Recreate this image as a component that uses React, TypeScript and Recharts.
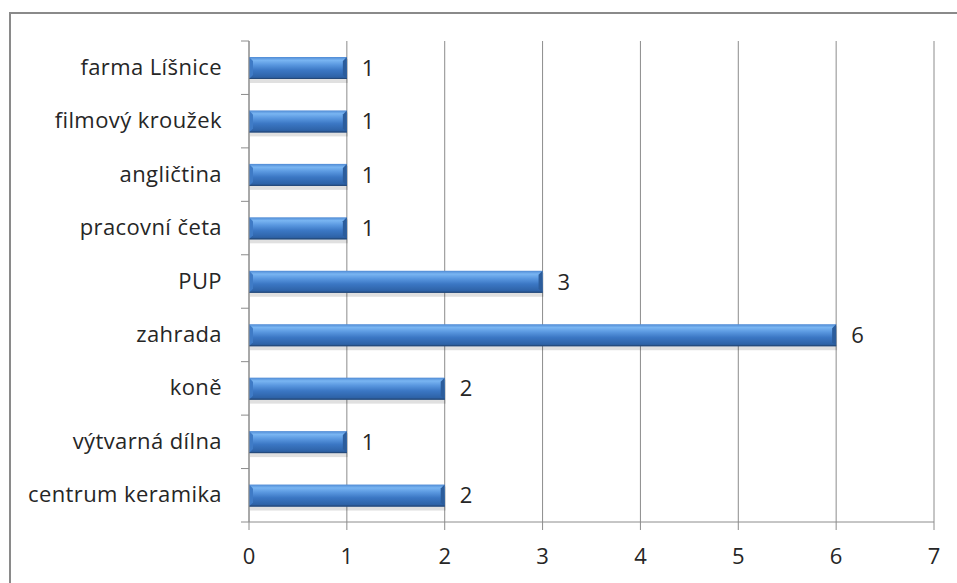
import { Bar, BarChart, CartesianGrid, LabelList, XAxis, YAxis } from "recharts";

// categories top to bottom, as in the picture
const categories = [
  "farma Líšnice",
  "filmový kroužek",
  "angličtina",
  "pracovní četa",
  "PUP",
  "zahrada",
  "koně",
  "výtvarná dílna",
  "centrum keramika",
];
const counts = [1, 1, 1, 1, 3, 6, 2, 1, 2];
const xTicks = [0, 1, 2, 3, 4, 5, 6, 7];

const chartData = categories.map((name, i) => ({ name, value: counts[i] }));

const FONT = "'Open Sans', 'Noto Sans', sans-serif";
const FONT_SIZE = 22;
const AXIS_GRAY = "#8c8c8c";

// category label plus tick marks on the band edges
// eslint-disable-next-line @typescript-eslint/no-explicit-any
function CategoryTick(props: any) {
  const { x, y, payload, index } = props;
  const half = 481 / categories.length / 2;
  const axisX = x + 8;
  return (
    <g>
      {index === 0 && (
        <line x1={axisX - 8} x2={axisX} y1={y - half} y2={y - half} stroke={AXIS_GRAY} />
      )}
      <line x1={axisX - 8} x2={axisX} y1={y + half} y2={y + half} stroke={AXIS_GRAY} />
      <text
        x={x - 19}
        y={y}
        dy={7}
        textAnchor="end"
        fill="#262626"
        fontSize={FONT_SIZE}
        fontFamily={FONT}
        letterSpacing={0.4}
      >
        {payload.value}
      </text>
    </g>
  );
}

// bar with a bevelled, glossy look
// eslint-disable-next-line @typescript-eslint/no-explicit-any
function GlossyBar(props: any) {
  const { x, y, width, height } = props;
  if (!width || width <= 0) return null;
  const b = 4;
  return (
    <g>
      <rect x={x + 1} y={y + 2} width={width} height={height + 2} fill="#000" opacity={0.12} />
      <rect x={x} y={y} width={width} height={height} fill="url(#barGrad)" />
      <polygon
        points={`${x + width - b},${y + b} ${x + width},${y} ${x + width},${y + height} ${x + width - b},${y + height - b}`}
        fill="#2c5d9c"
      />
      <polygon
        points={`${x},${y} ${x + b},${y + b} ${x + b},${y + height - b} ${x},${y + height}`}
        fill="#3f7bc6"
      />
      <rect x={x} y={y + height - 1} width={width} height={1} fill="#24497a" />
    </g>
  );
}

export default function App() {
  return (
    <div style={{ position: "absolute", left: 0, top: 0, width: 957, height: 583, background: "#fff" }}>
      <div
        style={{
          position: "absolute",
          left: 9,
          top: 12,
          width: 1000,
          height: 650,
          borderTop: "2px solid #8a8a8a",
          borderLeft: "2px solid #8a8a8a",
          boxSizing: "border-box",
        }}
      />
      <div style={{ position: "absolute", left: 0, top: 0 }}>
        <BarChart
          width={957}
          height={583}
          data={chartData}
          layout="vertical"
          margin={{ top: 41, right: 23, left: 0, bottom: 0 }}
          barSize={22}
        >
          <defs>
            <linearGradient id="barGrad" x1="0" y1="0" x2="0" y2="1">
              <stop offset="0%" stopColor="#4f8ad4" />
              <stop offset="15%" stopColor="#79b5f2" />
              <stop offset="35%" stopColor="#5a98e0" />
              <stop offset="60%" stopColor="#3b77c4" />
              <stop offset="90%" stopColor="#2e63a8" />
              <stop offset="100%" stopColor="#27528a" />
            </linearGradient>
          </defs>
          <CartesianGrid horizontal={false} stroke={AXIS_GRAY} verticalValues={xTicks} />
          <XAxis
            type="number"
            domain={[0, 7]}
            ticks={xTicks}
            interval={0}
            height={61}
            stroke={AXIS_GRAY}
            tickSize={8}
            tick={{ fill: "#262626", fontSize: FONT_SIZE, fontFamily: FONT, dy: 16 }}
          />
          <YAxis
            type="category"
            dataKey="name"
            width={249}
            stroke={AXIS_GRAY}
            tickLine={false}
            interval={0}
            tick={<CategoryTick />}
          />
          <Bar dataKey="value" shape={<GlossyBar />} isAnimationActive={false}>
            <LabelList
              dataKey="value"
              position="right"
              offset={15}
              fill="#262626"
              fontSize={FONT_SIZE}
              fontFamily={FONT}
            />
          </Bar>
        </BarChart>
      </div>
    </div>
  );
}
